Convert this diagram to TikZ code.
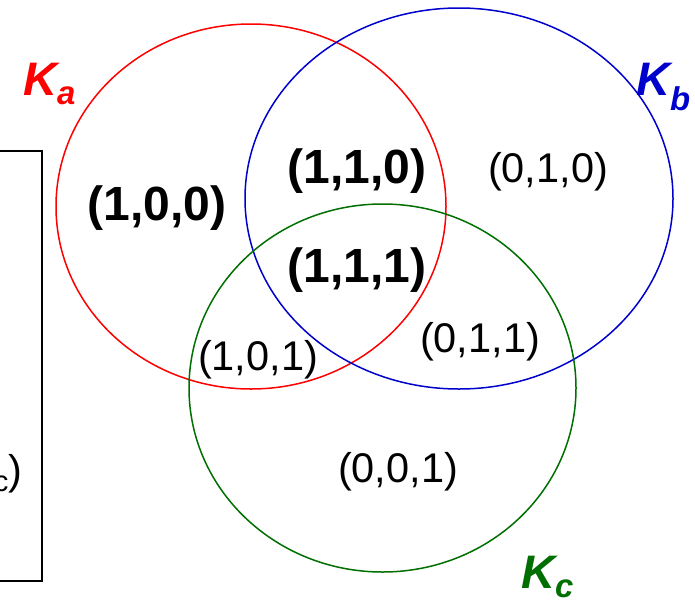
\documentclass[tikz,border=0pt]{standalone}
\usepackage{fontspec}
\setmainfont{Liberation Sans}
\usepackage{tikz}
\usetikzlibrary{positioning}
\usepackage{xcolor}
\definecolor{setred}{HTML}{FF0000}
\definecolor{setblue}{HTML}{0000CC}
\definecolor{setgreen}{HTML}{006E00}
\tikzset{
  setline/.style={
    line width=1.5pt
  },
  tuple/.style={
    anchor=base,
    inner sep=0pt,
    font=\fontsize{41.5}{50}\selectfont
  },
  boldtuple/.style={
    anchor=base,
    inner sep=0pt,
    font=\fontsize{48}{56}\selectfont\bfseries
  },
  setname/.style={
    anchor=base west,
    inner sep=0pt,
    font=\fontsize{47}{56}\selectfont\bfseries\itshape
  }
}
\begin{document}
\begin{tikzpicture}[x=1pt,y=-1pt]
\useasboundingbox (0,0) rectangle (695,600);
\begin{scope}
\clip (0,0) rectangle (695,600);
% cut-off box on the left
\draw[line width=1.5pt] (-20,151) rectangle (42,581);
\node[tuple, anchor=base east] (keys) at (23,484) {\textsubscript{c})};
\end{scope}
% the three sets
\draw[setline, draw=setred] (251,206.5) ellipse [x radius=195, y radius=182.5];
\draw[setline, draw=setblue] (459,198.5) ellipse [x radius=214, y radius=190.5];
\draw[setline, draw=setgreen] (382.5,388) ellipse [x radius=193.5, y radius=184];
\node[setname, text=setred] (ka) at (23,95) {K\textsubscript{a}};
\node[setname, text=setblue] (kb) at (636,95) {K\textsubscript{b}};
\node[setname, text=setgreen] (kc) at (521,588) {K\textsubscript{c}};
% regions
\node[boldtuple] (r100) at (157,220) {(1,0,0)};
\node[boldtuple] (r110) at (357,183) {(1,1,0)};
\node[boldtuple] (r111) at (357,282) {(1,1,1)};
\node[tuple] (r010) at (548,182) {(0,1,0)};
\node[tuple] (r011) at (480,352) {(0,1,1)};
\node[tuple] (r101) at (258,370) {(1,0,1)};
\node[tuple] (r001) at (398,482) {(0,0,1)};
\end{tikzpicture}
\end{document}
